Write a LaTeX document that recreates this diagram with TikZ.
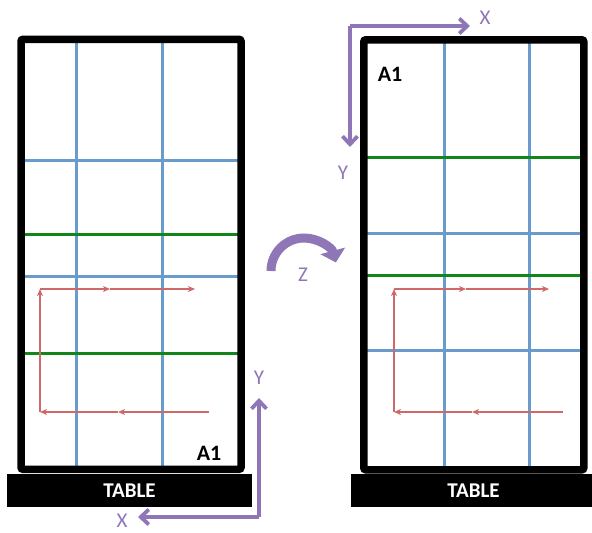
\documentclass[tikz,border=0pt]{standalone}
\usepackage{fontspec}
\setmainfont{Carlito}
\usetikzlibrary{arrows.meta}
\definecolor{gridblue}{RGB}{105,155,205}
\definecolor{gridgreen}{RGB}{16,135,24}
\definecolor{pathred}{RGB}{205,105,105}
\definecolor{axpurple}{RGB}{143,118,182}

\begin{document}
\begin{tikzpicture}[x=1pt, y=-1pt,
  frame/.style={draw, line width=7.5pt, rounded corners=2pt,
                minimum width=220pt, minimum height=430pt},
  base/.style={fill=black, text=white, minimum width=245pt,
               minimum height=33pt, font=\fontsize{21}{21}\selectfont\bfseries},
  blueln/.style={draw=gridblue, line width=3pt},
  greenln/.style={draw=gridgreen, line width=3pt},
  scan/.style={draw=pathred, line width=1.4pt,
               -{Stealth[length=7pt, width=6pt, inset=2pt]}},
  axis/.style={draw=axpurple, line width=3.8pt, rounded corners=2pt,
               -{Straight Barb[length=8pt, width=15pt]}},
  axlbl/.style={text=axpurple, font=\fontsize{21}{21}\selectfont},
  cell/.style={font=\fontsize{22}{22}\selectfont\bfseries}
]
  \useasboundingbox (0,0) rectangle (592,533);

  % left board, A1 at bottom right
  \foreach \x in {76,162} \draw[blueln] (\x,39) -- (\x,469);
  \foreach \y in {160,276} \draw[blueln] (21,\y) -- (241,\y);
  \foreach \y in {234,353} \draw[greenln] (21,\y) -- (241,\y);
  \node[frame] (boardL) at (131,254.3) {};
  \node[base] (tableL) at (129.5,490.5) {TABLE};
  \node[cell] (a1L) at (209,453) {A1};

  \coordinate (sL1) at (209,412);
  \coordinate (sL2) at (118,412);
  \coordinate (sL3) at (40,412);
  \coordinate (sL4) at (40,289);
  \coordinate (sL5) at (110,289);
  \coordinate (sL6) at (195,289);
  \draw[scan] (sL1) -- (sL2);
  \draw[scan] (sL2) -- (sL3);
  \draw[scan] (sL3) -- (sL4);
  \draw[scan] (sL4) -- (sL5);
  \draw[scan] (sL5) -- (sL6);

  \coordinate (oL) at (259,517);
  \coordinate (yL) at (259,398);
  \coordinate (xL) at (138,517);
  \draw[axis] (oL) -- (yL);
  \draw[axis] (oL) -- (xL);
  \node[axlbl] (lblYL) at (259,378) {Y};
  \node[axlbl] (lblXL) at (122,521) {X};

  % rotation about Z
  \draw[axpurple, line width=9pt,
        -{Triangle[length=12pt, width=25pt]}]
    (271,271) arc[start angle=180, end angle=345, radius=33];
  \node[axlbl] (lblZ) at (303,275) {Z};

  % right board, A1 at top left
  \foreach \x in {444,529} \draw[blueln] (\x,40) -- (\x,469);
  \foreach \y in {233,350} \draw[blueln] (364,\y) -- (583.5,\y);
  \foreach \y in {157,275} \draw[greenln] (364,\y) -- (583.5,\y);
  \node[frame] (boardR) at (473.8,254.8) {};
  \node[base] (tableR) at (473.5,490.5) {TABLE};
  \node[cell] (a1R) at (390,74) {A1};

  \coordinate (sR1) at (563,412);
  \coordinate (sR2) at (472,412);
  \coordinate (sR3) at (394,412);
  \coordinate (sR4) at (394,289);
  \coordinate (sR5) at (466,289);
  \coordinate (sR6) at (549,289);
  \draw[scan] (sR1) -- (sR2);
  \draw[scan] (sR2) -- (sR3);
  \draw[scan] (sR3) -- (sR4);
  \draw[scan] (sR4) -- (sR5);
  \draw[scan] (sR5) -- (sR6);

  \coordinate (oR) at (350,26);
  \coordinate (xR) at (470,26);
  \coordinate (yR) at (350,147);
  \draw[axis] (oR) -- (xR);
  \draw[axis] (oR) -- (yR);
  \node[axlbl] (lblXR) at (485,18) {X};
  \node[axlbl] (lblYR) at (343,173) {Y};
\end{tikzpicture}
\end{document}
